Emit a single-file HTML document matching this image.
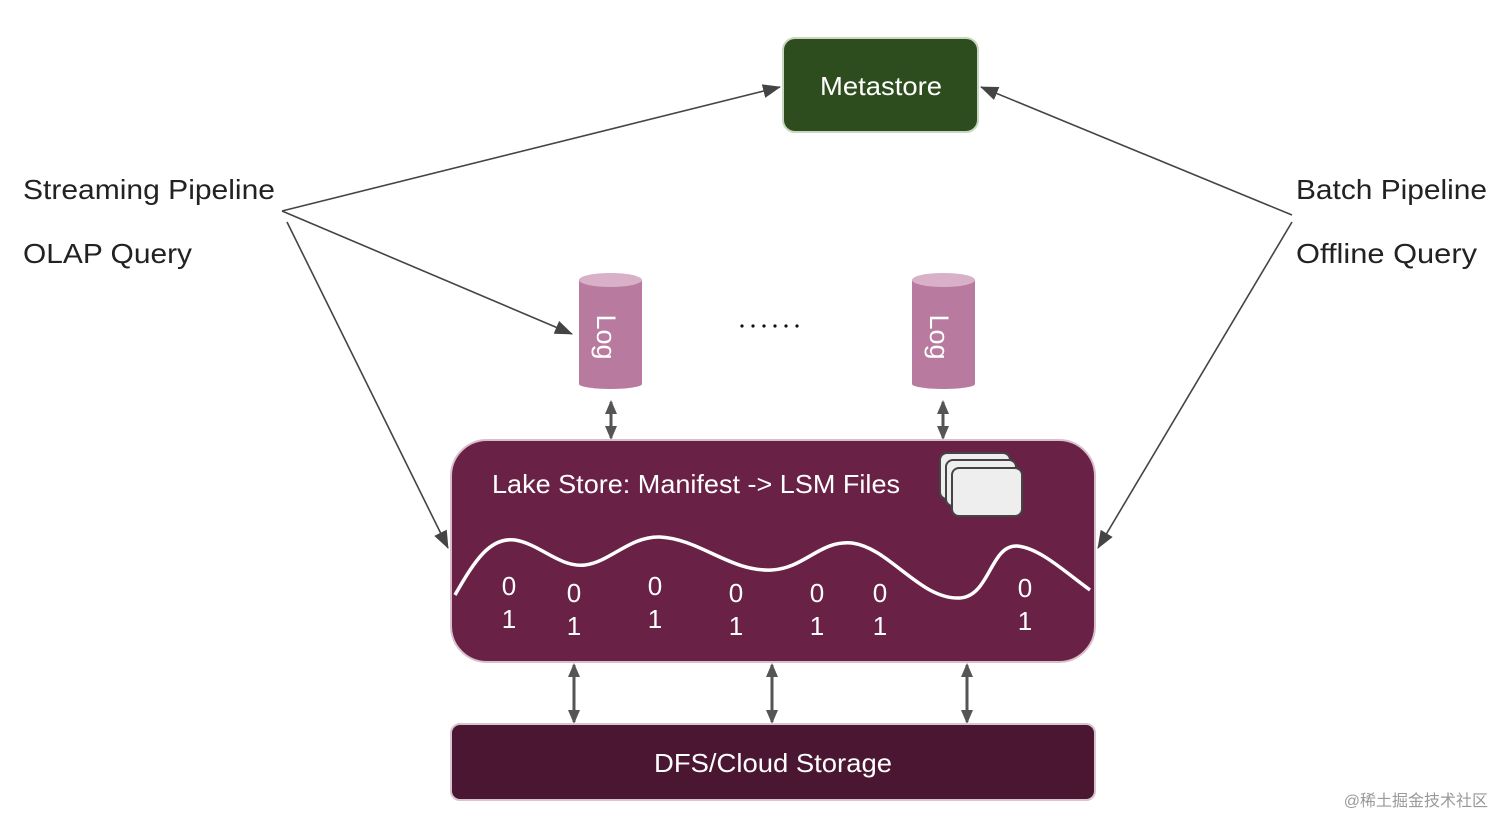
<!DOCTYPE html>
<html><head><meta charset="utf-8"><style>
body{margin:0;background:#fff;}
svg text{font-family:"Liberation Sans",sans-serif;}
</style></head><body>
<svg width="1512" height="834" viewBox="0 0 1512 834" xmlns="http://www.w3.org/2000/svg">
<defs>
<marker id="a" markerWidth="18" markerHeight="14" refX="17" refY="7" orient="auto" markerUnits="userSpaceOnUse" viewBox="0 0 18 14">
<path d="M0,0 L18,7 L0,14 z" fill="#444"/></marker>
<marker id="b" markerWidth="14" markerHeight="14" refX="12" refY="7" orient="auto-start-reverse" markerUnits="userSpaceOnUse" viewBox="0 0 14 14">
<path d="M0,1 L14,7 L0,13 z" fill="#555"/></marker>
</defs>
<!-- Metastore -->
<rect x="783" y="38" width="195" height="94" rx="12" fill="#2e4d1e" stroke="#c9d6c0" stroke-width="2"/>
<text x="820" y="95" fill="#fff" font-size="26" textLength="122" lengthAdjust="spacingAndGlyphs">Metastore</text>
<!-- labels -->
<g font-size="28" fill="#222">
<text x="23" y="199" textLength="252" lengthAdjust="spacingAndGlyphs">Streaming Pipeline</text>
<text x="23" y="263" textLength="169" lengthAdjust="spacingAndGlyphs">OLAP Query</text>
<text x="1296" y="199" textLength="191" lengthAdjust="spacingAndGlyphs">Batch Pipeline</text>
<text x="1296" y="263" textLength="181" lengthAdjust="spacingAndGlyphs">Offline Query</text>
</g>
<!-- connectors -->
<g stroke="#444" stroke-width="1.6" fill="none">
<line x1="282" y1="211" x2="780" y2="87" marker-end="url(#a)"/>
<line x1="282" y1="211" x2="572" y2="334" marker-end="url(#a)"/>
<line x1="287" y1="222" x2="448" y2="548" marker-end="url(#a)"/>
<line x1="1292" y1="215" x2="981" y2="87" marker-end="url(#a)"/>
<line x1="1292" y1="222" x2="1098" y2="548" marker-end="url(#a)"/>
</g>
<!-- logs -->
<g>
<rect x="579" y="280" width="63" height="104" fill="#b87a9f"/>
<ellipse cx="610.5" cy="384" rx="31.5" ry="5" fill="#b87a9f"/>
<ellipse cx="610.5" cy="280" rx="31.5" ry="7" fill="#d8b0c8"/>
<text transform="translate(597,337) rotate(90)" font-size="27" fill="#fff" text-anchor="middle">Log</text>
<rect x="912" y="280" width="63" height="104" fill="#b87a9f"/>
<ellipse cx="943.5" cy="384" rx="31.5" ry="5" fill="#b87a9f"/>
<ellipse cx="943.5" cy="280" rx="31.5" ry="7" fill="#d8b0c8"/>
<text transform="translate(930,337) rotate(90)" font-size="27" fill="#fff" text-anchor="middle">Log</text>
</g>
<g fill="#111">
<circle cx="742" cy="326" r="1.6"/><circle cx="753" cy="326" r="1.6"/><circle cx="764" cy="326" r="1.6"/><circle cx="775" cy="326" r="1.6"/><circle cx="786" cy="326" r="1.6"/><circle cx="797" cy="326" r="1.6"/>
</g>
<!-- double arrows -->
<g stroke="#555" stroke-width="3">
<line x1="611" y1="402" x2="611" y2="438" marker-start="url(#b)" marker-end="url(#b)"/>
<line x1="943" y1="402" x2="943" y2="438" marker-start="url(#b)" marker-end="url(#b)"/>
<line x1="574" y1="665" x2="574" y2="722" marker-start="url(#b)" marker-end="url(#b)"/>
<line x1="772" y1="665" x2="772" y2="722" marker-start="url(#b)" marker-end="url(#b)"/>
<line x1="967" y1="665" x2="967" y2="722" marker-start="url(#b)" marker-end="url(#b)"/>
</g>
<!-- lake store -->
<rect x="451" y="440" width="644" height="222" rx="36" fill="#6a2146" stroke="#d9bfcc" stroke-width="2"/>
<text x="492" y="493" font-size="26" fill="#fff" textLength="408" lengthAdjust="spacingAndGlyphs">Lake Store: Manifest -&gt; LSM Files</text>
<g stroke="#444" stroke-width="2" fill="#eee">
<rect x="940" y="453" width="70" height="46" rx="7"/>
<rect x="946" y="460" width="70" height="46" rx="7"/>
<rect x="952" y="468" width="70" height="48" rx="7"/>
</g>
<path d="M455,595 C475,560 490,537 515,540 C540,544 560,568 585,565 C610,562 630,536 660,537 C700,539 730,572 772,570 C805,568 820,540 852,543 C890,548 920,600 960,598 C990,596 990,545 1017,546 C1040,548 1065,572 1090,590" stroke="#fff" stroke-width="3.5" fill="none"/>
<g font-size="26" fill="#fff" text-anchor="middle">
<text x="509" y="595">0</text><text x="509" y="628">1</text>
<text x="574" y="602">0</text><text x="574" y="635">1</text>
<text x="655" y="595">0</text><text x="655" y="628">1</text>
<text x="736" y="602">0</text><text x="736" y="635">1</text>
<text x="817" y="602">0</text><text x="817" y="635">1</text>
<text x="880" y="602">0</text><text x="880" y="635">1</text>
<text x="1025" y="597">0</text><text x="1025" y="630">1</text>
</g>
<!-- DFS -->
<rect x="451" y="724" width="644" height="76" rx="9" fill="#4a1631" stroke="#d9c3cf" stroke-width="2"/>
<text x="654" y="772" font-size="26" fill="#fff" textLength="238" lengthAdjust="spacingAndGlyphs">DFS/Cloud Storage</text>
<text x="1488" y="806" font-size="16" fill="#999" text-anchor="end" style="font-family:'Liberation Sans','Noto Sans CJK SC',sans-serif">@稀土掘金技术社区</text>
</svg>
</body></html>
